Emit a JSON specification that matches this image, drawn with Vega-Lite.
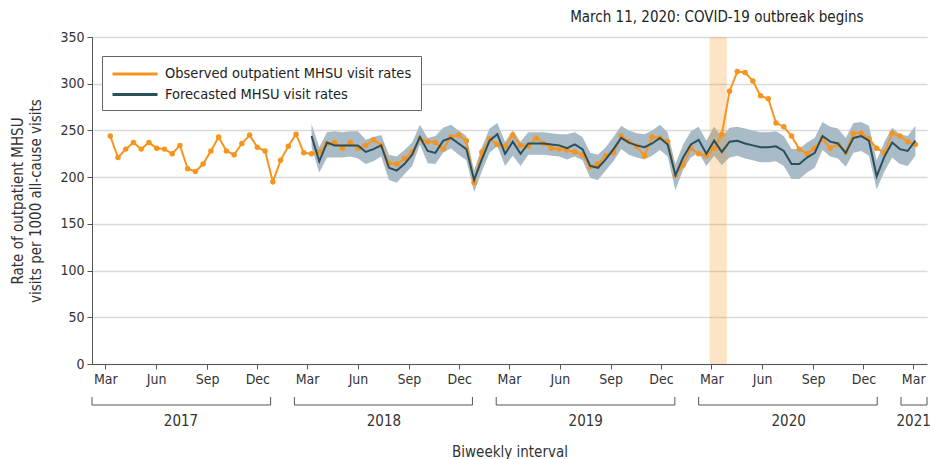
{
  "$schema": "https://vega.github.io/schema/vega-lite/v6.json",
  "padding": {"left": 10, "top": 10, "right": 0, "bottom": 0},
  "autosize": {"type": "pad"},
  "background": "white",
  "spacing": 10,
  "config": {
    "font": "Liberation Sans Narrow, DejaVu Sans Condensed, Roboto Condensed, sans-serif",
    "view": {"stroke": null},
    "axis": {
      "domainColor": "#555555",
      "tickColor": "#555555",
      "labelColor": "#333333",
      "titleColor": "#333333",
      "labelFontSize": 14,
      "titleFontSize": 15,
      "titleFontWeight": "normal",
      "gridColor": "#d9d9d9",
      "gridWidth": 1.5,
      "tickSize": 5,
      "labelPadding": 3,
      "grid": false
    }
  },
  "resolve": {"scale": {"color": "independent"}, "legend": {"color": "independent"}},
  "datasets": {
    "ts": [
      {"date": "2017-03-10", "observed": 244},
      {"date": "2017-03-24", "observed": 221},
      {"date": "2017-04-07", "observed": 230},
      {"date": "2017-04-21", "observed": 237},
      {"date": "2017-05-05", "observed": 230},
      {"date": "2017-05-19", "observed": 237},
      {"date": "2017-06-02", "observed": 231},
      {"date": "2017-06-16", "observed": 230},
      {"date": "2017-06-30", "observed": 225},
      {"date": "2017-07-14", "observed": 234},
      {"date": "2017-07-28", "observed": 209},
      {"date": "2017-08-11", "observed": 206},
      {"date": "2017-08-25", "observed": 214},
      {"date": "2017-09-08", "observed": 228},
      {"date": "2017-09-22", "observed": 243},
      {"date": "2017-10-06", "observed": 228},
      {"date": "2017-10-20", "observed": 224},
      {"date": "2017-11-03", "observed": 236},
      {"date": "2017-11-17", "observed": 245},
      {"date": "2017-12-01", "observed": 232},
      {"date": "2017-12-15", "observed": 228},
      {"date": "2017-12-29", "observed": 195},
      {"date": "2018-01-12", "observed": 218},
      {"date": "2018-01-26", "observed": 233},
      {"date": "2018-02-09", "observed": 246},
      {"date": "2018-02-23", "observed": 226},
      {"date": "2018-03-09", "observed": 225, "forecast": 244, "lower": 232, "upper": 257},
      {"date": "2018-03-23", "observed": 227, "forecast": 217, "lower": 205, "upper": 232},
      {"date": "2018-04-06", "observed": 236, "forecast": 237, "lower": 221, "upper": 248},
      {"date": "2018-04-20", "observed": 237, "forecast": 234, "lower": 221, "upper": 249},
      {"date": "2018-05-04", "observed": 231, "forecast": 234, "lower": 221, "upper": 248},
      {"date": "2018-05-18", "observed": 237, "forecast": 234, "lower": 222, "upper": 249},
      {"date": "2018-06-01", "observed": 231, "forecast": 234, "lower": 220, "upper": 249},
      {"date": "2018-06-15", "observed": 234, "forecast": 227, "lower": 214, "upper": 240},
      {"date": "2018-06-29", "observed": 240, "forecast": 230, "lower": 217, "upper": 243},
      {"date": "2018-07-13", "observed": 234, "forecast": 234, "lower": 222, "upper": 245},
      {"date": "2018-07-27", "observed": 215, "forecast": 210, "lower": 197, "upper": 224},
      {"date": "2018-08-10", "observed": 214, "forecast": 207, "lower": 194, "upper": 222},
      {"date": "2018-08-24", "observed": 220, "forecast": 214, "lower": 203, "upper": 229},
      {"date": "2018-09-07", "observed": 227, "forecast": 224, "lower": 212, "upper": 237},
      {"date": "2018-09-21", "observed": 241, "forecast": 243, "lower": 235, "upper": 256},
      {"date": "2018-10-05", "observed": 238, "forecast": 228, "lower": 215, "upper": 242},
      {"date": "2018-10-19", "observed": 237, "forecast": 226, "lower": 214, "upper": 244},
      {"date": "2018-11-02", "observed": 230, "forecast": 239, "lower": 226, "upper": 253},
      {"date": "2018-11-16", "observed": 243, "forecast": 242, "lower": 231, "upper": 256},
      {"date": "2018-11-30", "observed": 245, "forecast": 236, "lower": 224, "upper": 250},
      {"date": "2018-12-14", "observed": 239, "forecast": 230, "lower": 218, "upper": 244},
      {"date": "2018-12-28", "observed": 194, "forecast": 197, "lower": 184, "upper": 207},
      {"date": "2019-01-11", "observed": 227, "forecast": 219, "lower": 206, "upper": 232},
      {"date": "2019-01-25", "observed": 241, "forecast": 239, "lower": 226, "upper": 252},
      {"date": "2019-02-08", "observed": 235, "forecast": 246, "lower": 233, "upper": 258},
      {"date": "2019-02-22", "observed": 233, "forecast": 225, "lower": 212, "upper": 238},
      {"date": "2019-03-08", "observed": 245, "forecast": 238, "lower": 223, "upper": 250},
      {"date": "2019-03-22", "observed": 234, "forecast": 225, "lower": 212, "upper": 238},
      {"date": "2019-04-05", "observed": 233, "forecast": 236, "lower": 224, "upper": 248},
      {"date": "2019-04-19", "observed": 242, "forecast": 236, "lower": 224, "upper": 248},
      {"date": "2019-05-03", "observed": 236, "forecast": 236, "lower": 224, "upper": 248},
      {"date": "2019-05-17", "observed": 231, "forecast": 235, "lower": 223, "upper": 247},
      {"date": "2019-05-31", "observed": 230, "forecast": 234, "lower": 222, "upper": 246},
      {"date": "2019-06-14", "observed": 229, "forecast": 231, "lower": 219, "upper": 246},
      {"date": "2019-06-28", "observed": 227, "forecast": 235, "lower": 222, "upper": 248},
      {"date": "2019-07-12", "observed": 224, "forecast": 230, "lower": 218, "upper": 243},
      {"date": "2019-07-26", "observed": 211, "forecast": 212, "lower": 199, "upper": 226},
      {"date": "2019-08-09", "observed": 214, "forecast": 210, "lower": 197, "upper": 224},
      {"date": "2019-08-23", "observed": 223, "forecast": 219, "lower": 207, "upper": 232},
      {"date": "2019-09-06", "observed": 226, "forecast": 230, "lower": 217, "upper": 243},
      {"date": "2019-09-20", "observed": 244, "forecast": 242, "lower": 230, "upper": 255},
      {"date": "2019-10-04", "observed": 238, "forecast": 237, "lower": 224, "upper": 250},
      {"date": "2019-10-18", "observed": 233, "forecast": 234, "lower": 221, "upper": 247},
      {"date": "2019-11-01", "observed": 223, "forecast": 232, "lower": 219, "upper": 246},
      {"date": "2019-11-15", "observed": 243, "forecast": 236, "lower": 223, "upper": 250},
      {"date": "2019-11-29", "observed": 242, "forecast": 242, "lower": 229, "upper": 256},
      {"date": "2019-12-13", "observed": 238, "forecast": 235, "lower": 222, "upper": 248},
      {"date": "2019-12-27", "observed": 202, "forecast": 202, "lower": 186, "upper": 214},
      {"date": "2020-01-10", "observed": 213, "forecast": 221, "lower": 208, "upper": 235},
      {"date": "2020-01-24", "observed": 231, "forecast": 235, "lower": 221, "upper": 249},
      {"date": "2020-02-07", "observed": 225, "forecast": 240, "lower": 226, "upper": 254},
      {"date": "2020-02-21", "observed": 223, "forecast": 225, "lower": 212, "upper": 239},
      {"date": "2020-03-06", "observed": 231, "forecast": 239, "lower": 223, "upper": 254},
      {"date": "2020-03-20", "observed": 246, "forecast": 227, "lower": 213, "upper": 243},
      {"date": "2020-04-03", "observed": 292, "forecast": 238, "lower": 221, "upper": 253},
      {"date": "2020-04-17", "observed": 313, "forecast": 239, "lower": 223, "upper": 254},
      {"date": "2020-05-01", "observed": 312, "forecast": 236, "lower": 220, "upper": 252},
      {"date": "2020-05-15", "observed": 303, "forecast": 234, "lower": 218, "upper": 250},
      {"date": "2020-05-29", "observed": 287, "forecast": 232, "lower": 216, "upper": 248},
      {"date": "2020-06-12", "observed": 284, "forecast": 232, "lower": 216, "upper": 248},
      {"date": "2020-06-26", "observed": 258, "forecast": 233, "lower": 217, "upper": 249},
      {"date": "2020-07-10", "observed": 254, "forecast": 228, "lower": 212, "upper": 244},
      {"date": "2020-07-24", "observed": 244, "forecast": 214, "lower": 198, "upper": 230},
      {"date": "2020-08-07", "observed": 230, "forecast": 214, "lower": 198, "upper": 230},
      {"date": "2020-08-21", "observed": 225, "forecast": 221, "lower": 205, "upper": 237},
      {"date": "2020-09-04", "observed": 231, "forecast": 226, "lower": 210, "upper": 242},
      {"date": "2020-09-18", "observed": 241, "forecast": 244, "lower": 229, "upper": 259},
      {"date": "2020-10-02", "observed": 231, "forecast": 238, "lower": 222, "upper": 254},
      {"date": "2020-10-16", "observed": 235, "forecast": 236, "lower": 220, "upper": 252},
      {"date": "2020-10-30", "observed": 227, "forecast": 226, "lower": 211, "upper": 242},
      {"date": "2020-11-13", "observed": 247, "forecast": 242, "lower": 226, "upper": 258},
      {"date": "2020-11-27", "observed": 247, "forecast": 244, "lower": 228, "upper": 259},
      {"date": "2020-12-11", "observed": 241, "forecast": 239, "lower": 223, "upper": 255},
      {"date": "2020-12-25", "observed": 231, "forecast": 201, "lower": 187, "upper": 218},
      {"date": "2021-01-08", "observed": 226, "forecast": 222, "lower": 206, "upper": 238},
      {"date": "2021-01-22", "observed": 247, "forecast": 237, "lower": 221, "upper": 253},
      {"date": "2021-02-05", "observed": 244, "forecast": 230, "lower": 214, "upper": 246},
      {"date": "2021-02-19", "observed": 238, "forecast": 228, "lower": 212, "upper": 244},
      {"date": "2021-03-05", "observed": 235, "forecast": 239, "lower": 223, "upper": 255}
    ],
    "covid": [
      {"start": "2020-02-27", "end": "2020-03-29", "date": "2020-03-11", "label": "March 11, 2020: COVID-19 outbreak begins"}
    ],
    "years": [
      {"year": "2017", "start": "2017-02-05", "end": "2017-12-25"},
      {"year": "2018", "start": "2018-02-06", "end": "2018-12-25"},
      {"year": "2019", "start": "2019-02-06", "end": "2019-12-26"},
      {"year": "2020", "start": "2020-02-07", "end": "2020-12-26"},
      {"year": "2021", "start": "2021-02-07", "end": "2021-03-26"}
    ]
  },
  "vconcat": [
    {
      "width": 835,
      "height": 327,
      "layer": [
        {
          "data": {"name": "ts"},
          "mark": {"type": "area", "color": "#a9bbc6"},
          "encoding": {
            "x": {
              "field": "date", "type": "temporal",
              "scale": {"type": "utc", "domain": [{"year": 2017, "month": 2, "date": 5, "utc": true}, {"year": 2021, "month": 3, "date": 26, "utc": true}]},
              "axis": {
                "title": null,
                "format": "%b",
                "labelFlush": false,
                "values": [
                  {"year": 2017, "month": 3, "date": 1, "utc": true}, {"year": 2017, "month": 6, "date": 1, "utc": true}, {"year": 2017, "month": 9, "date": 1, "utc": true}, {"year": 2017, "month": 12, "date": 1, "utc": true},
                  {"year": 2018, "month": 3, "date": 1, "utc": true}, {"year": 2018, "month": 6, "date": 1, "utc": true}, {"year": 2018, "month": 9, "date": 1, "utc": true}, {"year": 2018, "month": 12, "date": 1, "utc": true},
                  {"year": 2019, "month": 3, "date": 1, "utc": true}, {"year": 2019, "month": 6, "date": 1, "utc": true}, {"year": 2019, "month": 9, "date": 1, "utc": true}, {"year": 2019, "month": 12, "date": 1, "utc": true},
                  {"year": 2020, "month": 3, "date": 1, "utc": true}, {"year": 2020, "month": 6, "date": 1, "utc": true}, {"year": 2020, "month": 9, "date": 1, "utc": true}, {"year": 2020, "month": 12, "date": 1, "utc": true},
                  {"year": 2021, "month": 3, "date": 1, "utc": true}
                ]
              }
            },
            "y": {
              "field": "lower", "type": "quantitative",
              "scale": {"domain": [0, 350], "nice": false, "zero": true},
              "axis": {
                "values": [0, 50, 100, 150, 200, 250, 300, 350],
                "grid": true,
                "title": ["Rate of outpatient MHSU", "visits per 1000 all-cause visits"],
                "titlePadding": 16,
                "titleLineHeight": 18
              }
            },
            "y2": {"field": "upper"}
          }
        },
        {
          "data": {"name": "covid"},
          "mark": {"type": "rect", "color": "#f7941d", "opacity": 0.25},
          "encoding": {
            "x": {"field": "start", "type": "temporal"},
            "x2": {"field": "end"}
          }
        },
        {
          "data": {"name": "ts"},
          "mark": {"type": "line", "strokeWidth": 2, "point": {"filled": true, "size": 30}},
          "encoding": {
            "x": {"field": "date", "type": "temporal"},
            "y": {"field": "observed", "type": "quantitative"},
            "color": {
              "datum": "Observed outpatient MHSU visit rates",
              "scale": {"domain": ["Observed outpatient MHSU visit rates", "Forecasted MHSU visit rates"], "range": ["#f7941d", "#2b4f5b"]},
              "legend": {
                "orient": "none", "legendX": 10, "legendY": 19,
                "title": null,
                "symbolType": "M-3,0H3",
                "symbolSize": 225,
                "symbolStrokeWidth": 3,
                "symbolOffset": 15,
                "labelOffset": 21,
                "labelFontSize": 14.5,
                "labelLimit": 0,
                "labelColor": "#222222",
                "strokeColor": "#666666",
                "fillColor": "white",
                "padding": 9,
                "rowPadding": 4.5
              }
            }
          }
        },
        {
          "data": {"name": "ts"},
          "mark": {"type": "line", "strokeWidth": 2},
          "encoding": {
            "x": {"field": "date", "type": "temporal"},
            "y": {"field": "forecast", "type": "quantitative"},
            "color": {"datum": "Forecasted MHSU visit rates"}
          }
        },
        {
          "data": {"name": "covid"},
          "mark": {"type": "text", "fontSize": 15, "color": "#222222", "align": "center", "baseline": "alphabetic", "dy": -15},
          "encoding": {
            "x": {"field": "date", "type": "temporal"},
            "y": {"datum": 350},
            "text": {"field": "label"}
          }
        }
      ]
    },
    {
      "width": 835,
      "height": 8,
      "data": {"name": "years"},
      "layer": [
        {
          "mark": {"type": "rule", "color": "#555555", "strokeWidth": 1},
          "encoding": {
            "x": {
              "field": "start", "type": "temporal",
              "scale": {"type": "utc", "domain": [{"year": 2017, "month": 2, "date": 5, "utc": true}, {"year": 2021, "month": 3, "date": 26, "utc": true}]},
              "axis": {
                "values": [
                  {"year": 2017, "month": 7, "date": 15, "utc": true},
                  {"year": 2018, "month": 7, "date": 17, "utc": true},
                  {"year": 2019, "month": 7, "date": 17, "utc": true},
                  {"year": 2020, "month": 7, "date": 18, "utc": true},
                  {"year": 2021, "month": 3, "date": 1, "utc": true}
                ],
                "format": "%Y",
                "domain": false,
                "ticks": false,
                "labelFlush": false,
                "labelOverlap": false,
                "labelFontSize": 15,
                "labelPadding": 8,
                "title": "Biweekly interval",
                "titlePadding": 16
              }
            },
            "x2": {"field": "end"},
            "y": {"datum": 0, "type": "quantitative", "scale": {"domain": [0, 1]}, "axis": null}
          }
        },
        {
          "mark": {"type": "rule", "color": "#555555", "strokeWidth": 1},
          "encoding": {
            "x": {"field": "start", "type": "temporal"},
            "y": {"datum": 0, "type": "quantitative"},
            "y2": {"datum": 1}
          }
        },
        {
          "mark": {"type": "rule", "color": "#555555", "strokeWidth": 1},
          "encoding": {
            "x": {"field": "end", "type": "temporal"},
            "y": {"datum": 0, "type": "quantitative"},
            "y2": {"datum": 1}
          }
        }
      ]
    }
  ]
}
